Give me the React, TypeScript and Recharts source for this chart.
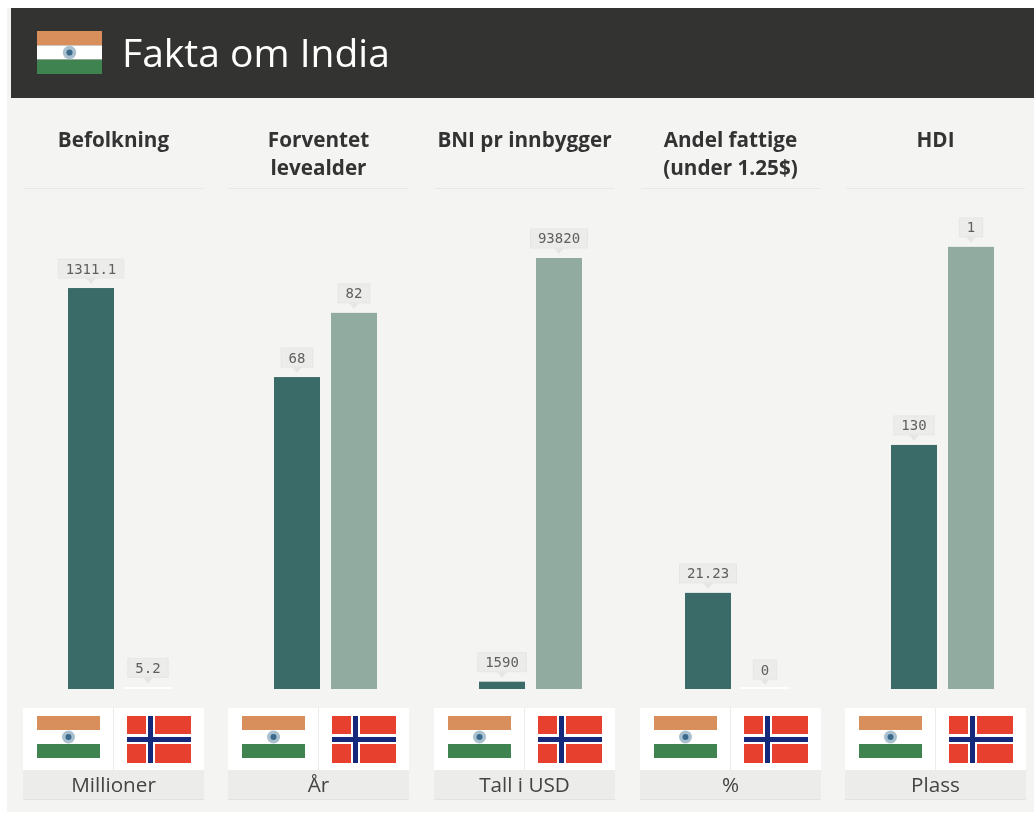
import { BarChart, Bar, XAxis, YAxis, Cell, LabelList } from 'recharts';

const land = ['India', 'Norge'];
const befolkning = [1311.1, 5.2];
const levealder = [68, 82];
const bni = [1590, 93820];
const fattige = [21.23, 0];
// HDI: stolpene viser ikke selve plassen, lengdene er lest av bildet
const hdiPlass = [130, 1];
const hdiLengde = [55.2, 100];

const titler = [['Befolkning'], ['Forventet', 'levealder'], ['BNI pr innbygger'], ['Andel fattige', '(under 1.25$)'], ['HDI']];
const enheter = ['Millioner', 'År', 'Tall i USD', '%', 'Plass'];
const kolonner = [23, 228, 434, 640, 845];
const stolpeForskyvning = [-1, 0, -1, -1, 0];
const maks = [1599, 106.6, 106445, 108, 110.6];
const verdier = [befolkning, levealder, bni, fattige, hdiLengde];
const etiketter = [befolkning, levealder, bni, fattige, hdiPlass];
const farger = ['#3b6b68', '#92aba0'];

const font = '"Open Sans", sans-serif';

function IndiaFlagg({ w, h }: { w: number; h: number }) {
  return (
    <svg width={w} height={h} viewBox="0 0 63 42" preserveAspectRatio="none" style={{ display: 'block' }}>
      <rect width="63" height="14" fill="#d98f5c" />
      <rect y="14" width="63" height="14" fill="#fff" />
      <rect y="28" width="63" height="14" fill="#3f8350" />
      <circle cx="31.5" cy="21" r="6.5" fill="#a9c0cf" />
      <circle cx="31.5" cy="21" r="3" fill="#3c6a8c" />
    </svg>
  );
}

function NorgeFlagg() {
  return (
    <svg width={64} height={47} viewBox="0 0 64 47" style={{ display: 'block' }}>
      <rect width="64" height="47" fill="#e8402e" />
      <rect x="19" width="9" height="47" fill="#fff" />
      <rect y="18" width="64" height="10" fill="#fff" />
      <rect x="21" width="5" height="47" fill="#15297c" />
      <rect y="21" width="64" height="5" fill="#15297c" />
    </svg>
  );
}

function StolpeForm(props: any) {
  const { x, y, width, height, fill } = props;
  if (height < 3) {
    return <rect x={x - 2} y={y + height - 2} width={width + 4} height={2} fill="#ffffff" fillOpacity={0.8} />;
  }
  return <rect x={x} y={y} width={width} height={height} fill={fill} />;
}

function Etikett(props: any) {
  const { x, y, width, value } = props;
  const tekst = String(value);
  const bredde = tekst.length * 8.4 + 15;
  const cx = x + width / 2;
  const topp = y - 29;
  return (
    <g>
      <rect x={cx - bredde / 2} y={topp} width={bredde} height={19} fill="#ececea" stroke="#e6e6e4" />
      <path d={`M${cx - 5} ${topp + 19} L${cx + 5} ${topp + 19} L${cx} ${topp + 25} Z`} fill="#e6e6e4" />
      <text x={cx} y={topp + 14.5} textAnchor="middle" fontSize={14} fontFamily='"DejaVu Sans Mono", monospace' fill="#5f5f5f">
        {tekst}
      </text>
    </g>
  );
}

function Kolonne({ i }: { i: number }) {
  const data = land.map((navn, k) => ({ navn, verdi: verdier[i][k], etikett: etiketter[i][k] }));
  return (
    <div style={{ position: 'absolute', left: kolonner[i], top: 0, width: 181, height: 815 }}>
      <div style={{ position: 'absolute', top: 125, left: 0, width: 181, textAlign: 'center', fontFamily: font, fontWeight: 700, fontSize: 20.7, lineHeight: '28px', color: '#333', whiteSpace: 'nowrap' }}>
        {titler[i].map((t) => <div key={t}>{t}</div>)}
      </div>
      <div style={{ position: 'absolute', top: 188, left: 1, width: 179, height: 1, background: '#e7e7e5' }} />
      <div style={{ position: 'absolute', top: 190, left: stolpeForskyvning[i] }}>
        <BarChart width={181} height={505} data={data} margin={{ top: 10, right: 27, bottom: 6, left: 40 }} barCategoryGap={0} barSize={46}>
          <XAxis dataKey="navn" hide />
          <YAxis hide domain={[0, maks[i]]} />
          <Bar dataKey="verdi" isAnimationActive={false} shape={StolpeForm}>
            {data.map((d, k) => <Cell key={d.navn} fill={farger[k]} />)}
            <LabelList dataKey="etikett" content={Etikett} />
          </Bar>
        </BarChart>
      </div>
      <div style={{ position: 'absolute', top: 708, left: 0, width: 181, height: 62, background: '#fff' }}>
        <div style={{ position: 'absolute', left: 14, top: 8 }}><IndiaFlagg w={63} h={42} /></div>
        <div style={{ position: 'absolute', left: 90, top: 0, width: 1, height: 62, background: '#ececea' }} />
        <div style={{ position: 'absolute', left: 104, top: 8 }}><NorgeFlagg /></div>
      </div>
      <div style={{ position: 'absolute', top: 770, left: 0, width: 181, height: 30, background: '#ececea', borderBottom: '1px solid #e2e2e0', boxSizing: 'border-box', textAlign: 'center', fontFamily: font, fontSize: 20.7, lineHeight: '28px', color: '#444' }}>
        {enheter[i]}
      </div>
    </div>
  );
}

export default function App() {
  return (
    <div style={{ position: 'absolute', left: 0, top: 0, width: 1034, height: 815, background: '#fff', overflow: 'hidden', filter: 'blur(0.4px)' }}>
      <div style={{ position: 'absolute', left: 7, top: 8, width: 1027, height: 804, background: '#f4f4f2' }} />
      <div style={{ position: 'absolute', left: 11, top: 8, width: 1023, height: 90, background: '#333331' }} />
      <div style={{ position: 'absolute', left: 37, top: 31 }}><IndiaFlagg w={65} h={43} /></div>
      <div style={{ position: 'absolute', left: 122, top: 26, fontFamily: font, fontWeight: 500, fontSize: 39, lineHeight: '52px', color: '#fff', whiteSpace: 'nowrap' }}>Fakta om India</div>
      {kolonner.map((_, i) => <Kolonne key={i} i={i} />)}
    </div>
  );
}
